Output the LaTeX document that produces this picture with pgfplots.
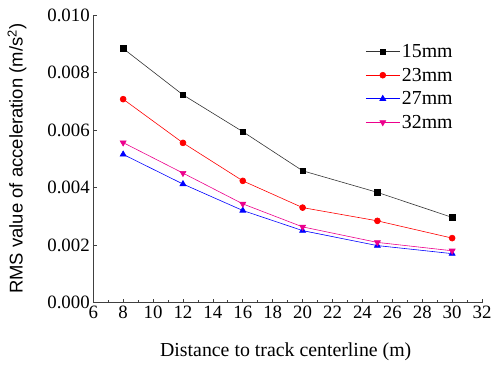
\documentclass[border=0pt]{standalone}
\usepackage{fontspec}
\setmainfont{Liberation Serif}
\newfontfamily\arial{Liberation Sans}
\usepackage{pgfplots}
\pgfplotsset{compat=1.18}
\begin{document}
\begin{tikzpicture}
\begin{axis}[
  at={(0,0)}, anchor=south west,
  scale only axis, width=392pt, height=290pt,
  xmin=6, xmax=32, ymin=0, ymax=0.010,
  xtick={6,8,...,32}, ytick={0,0.002,...,0.0101},
  minor x tick num=1,
  axis x line=bottom, axis y line=left,
  axis line style={-, draw=black!75, line width=0.7pt},
  tick style={draw=black!75, line width=0.7pt},
  tick align=inside,
  major tick length=4pt, minor tick length=2.5pt,
  scaled y ticks=false,
  yticklabel style={/pgf/number format/.cd, fixed, fixed zerofill, precision=3, assume math mode=true},
  xticklabel style={/pgf/number format/assume math mode=true},
  tick label style={font=\fontsize{19}{22}\selectfont},
  xlabel={Distance to track centerline (m)},
  xlabel style={at={(axis description cs:0.495,-0.172)}, anchor=center, font=\fontsize{20}{22}\selectfont},
  ylabel={\arial RMS value of acceleration (m/s\textsuperscript{2})},
  ylabel style={at={(axis description cs:-0.196,0.5)}, anchor=center, rotate=0, font=\fontsize{18.6}{20}\selectfont},
  legend style={draw=none, fill=none, at={(axis description cs:0.70,0.905)}, anchor=north west,
    font=\fontsize{20}{22}\selectfont, row sep=5pt, inner sep=0pt,
    /tikz/every even column/.append style={column sep=0pt}},
  legend cell align=left,
  legend image code/.code={\draw[mark repeat=2,mark phase=2] plot coordinates {(0pt,0pt) (17pt,0pt) (34pt,0pt)};},
  clip=false,
  every axis plot/.append style={line width=0.6pt},
]
\addplot[black!80, mark=square*, mark size=2.8pt, mark options={fill=black, draw=black}] coordinates {
(8,0.00883) (12,0.00722) (16,0.00594) (20,0.00458) (25,0.00383) (30,0.00296)};
\addlegendentry{15mm}
\addplot[red, mark=*, mark size=3pt, mark options={fill=red, draw=red}] coordinates {
(8,0.00707) (12,0.00555) (16,0.00423) (20,0.00330) (25,0.00284) (30,0.00224)};
\addlegendentry{23mm}
\addplot[blue, mark=triangle*, mark size=3.5pt, mark options={fill=blue, draw=blue}] coordinates {
(8,0.00515) (12,0.00412) (16,0.00320) (20,0.00250) (25,0.00198) (30,0.00170)};
\addlegendentry{27mm}
\addplot[magenta, mark=triangle*, mark size=3.5pt, mark options={fill=magenta, draw=magenta, rotate=180}] coordinates {
(8,0.00556) (12,0.00450) (16,0.00343) (20,0.00263) (25,0.00209) (30,0.00180)};
\addlegendentry{32mm}
\end{axis}
\pgfresetboundingbox
\path (-94pt,-65pt) rectangle (402pt,305pt);
\end{tikzpicture}
\end{document}
